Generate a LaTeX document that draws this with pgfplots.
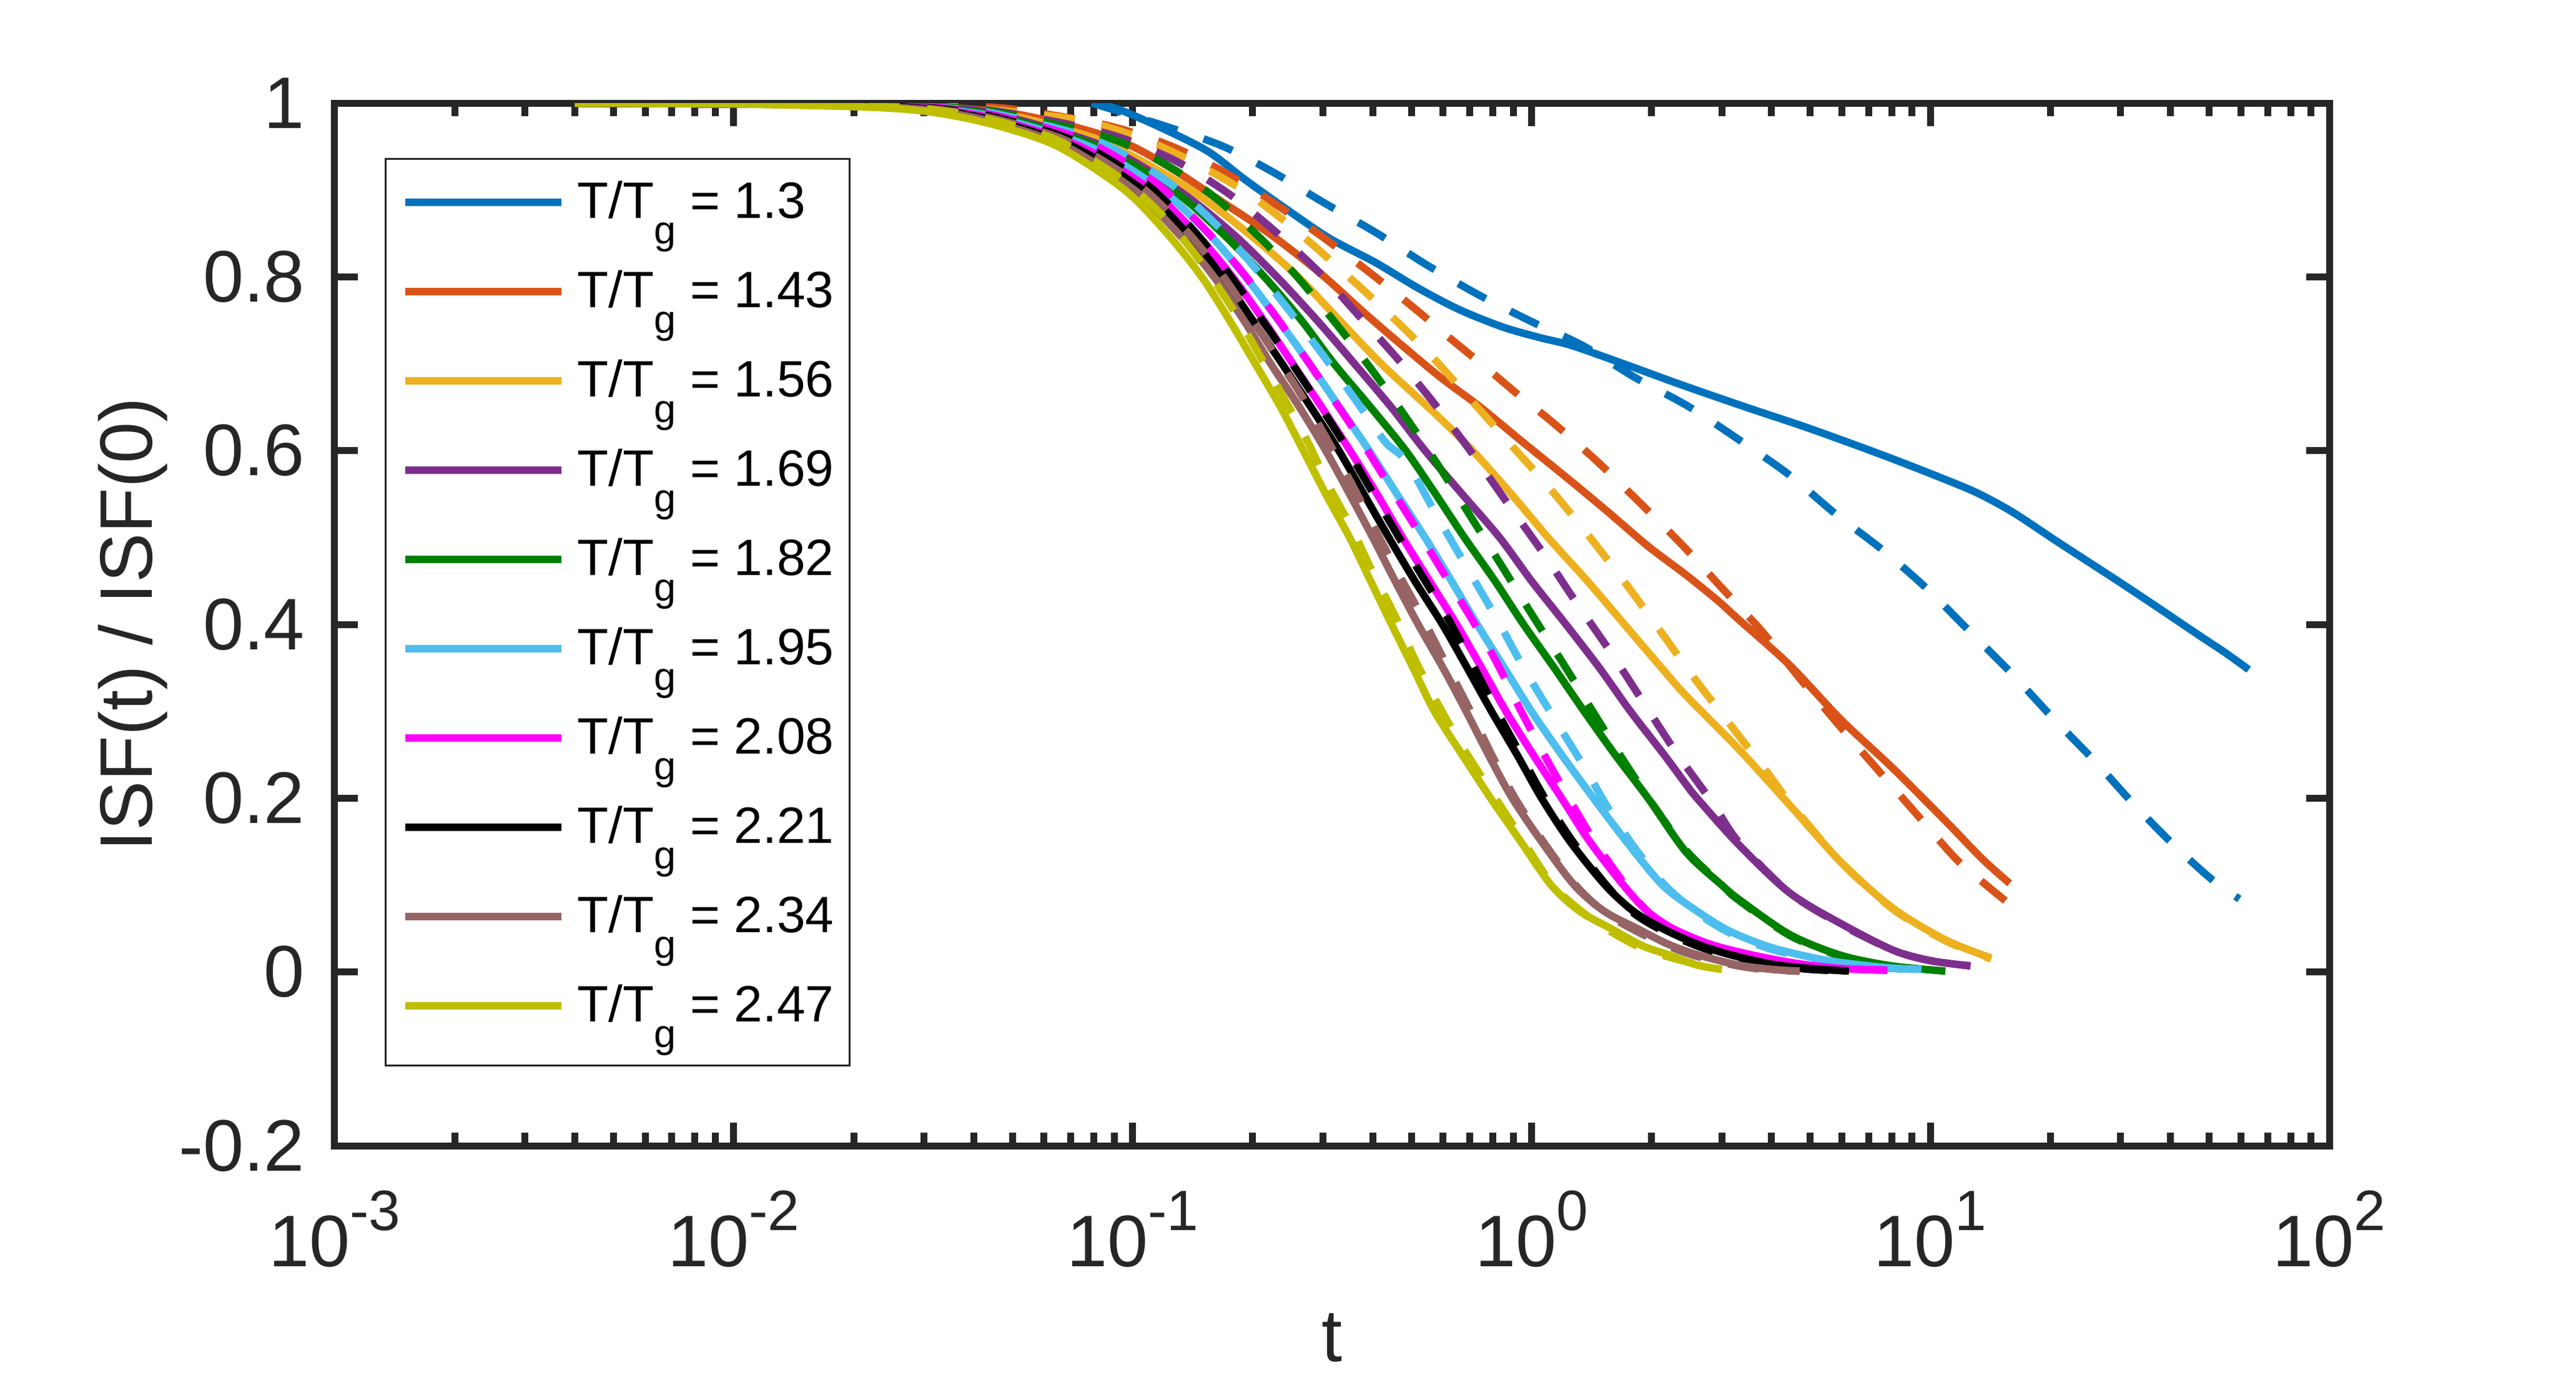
\documentclass[border=0pt]{standalone}
\usepackage{fontspec}
\setmainfont{Liberation Sans}
\usepackage{pgfplots}
\pgfplotsset{compat=1.18}
\definecolor{axcol}{HTML}{262626}
\definecolor{c1}{rgb}{0,0.447,0.741}
\definecolor{c2}{rgb}{0.85,0.325,0.098}
\definecolor{c3}{rgb}{0.929,0.694,0.125}
\definecolor{c4}{rgb}{0.494,0.184,0.556}
\definecolor{c5}{rgb}{0,0.5,0}
\definecolor{c6}{rgb}{0.301,0.745,0.933}
\definecolor{c7}{rgb}{1,0,1}
\definecolor{c8}{rgb}{0,0,0}
\definecolor{c9}{rgb}{0.588,0.392,0.392}
\definecolor{c10}{rgb}{0.75,0.75,0}
\newcommand{\supx}[1]{\raisebox{5.8pt}{\fontsize{9.1}{9.1}\selectfont #1}}
\newcommand{\leg}[1]{T/T\raisebox{-4.1pt}{\fontsize{6.3}{6.3}\selectfont g} = #1}
\begin{document}
\begin{tikzpicture}
\useasboundingbox (-53.6pt,-37.1pt) rectangle (358.9pt,183.5pt);
\begin{axis}[
  at={(0,0)}, anchor=south west,
  scale only axis, width=319.4pt, height=167pt,
  xmode=log, xmin=1e-3, xmax=1e2, ymin=-0.2, ymax=1,
  xtick={1e-3,1e-2,1e-1,1,10,100},
  xticklabels={10\supx{-3},10\supx{-2},10\supx{-1},10\supx{0},10\supx{1},10\supx{2}},
  minor xtick={2e-3,3e-3,4e-3,5e-3,6e-3,7e-3,8e-3,9e-3,2e-2,3e-2,4e-2,5e-2,6e-2,7e-2,8e-2,9e-2,0.2,0.3,0.4,0.5,0.6,0.7,0.8,0.9,2,3,4,5,6,7,8,9,20,30,40,50,60,70,80,90},
  ytick={-0.2,0,0.2,0.4,0.6,0.8,1},
  yticklabels={-0.2,0,0.2,0.4,0.6,0.8,1},
  minor ytick={},
  tick align=inside, tick pos=both,
  major tick length=3.7pt, minor tick length=2.1pt,
  tick style={draw=axcol, line width=1.1pt},
  axis line style={draw=axcol, line width=1.1pt},
  xticklabel style={font=\fontsize{11.7}{12}\selectfont, text=axcol, anchor=base, yshift=-19.3pt, inner sep=0pt},
  yticklabel style={font=\fontsize{11.7}{12}\selectfont, text=axcol, anchor=east, xshift=-4.6pt, inner sep=0pt},
  xlabel={t}, ylabel={ISF(t) / ISF(0)},
  every axis x label/.style={at={(axis description cs:0.5,0)}, anchor=base, yshift=-34.5pt, font=\fontsize{11.9}{12}\selectfont, text=axcol, inner sep=0pt},
  every axis y label/.style={at={(axis description cs:-0.0917,0.5)}, rotate=90, anchor=base, font=\fontsize{11.9}{12}\selectfont, text=axcol, inner sep=0pt},
  legend cell align=left,
  legend image code/.code={\draw[#1, line width=1.2pt] (0pt,1.3pt) -- (25pt,1.3pt);},
  legend style={at={(axis description cs:0.02505,0.9473)}, anchor=north west, draw=axcol, line width=0.3pt, fill=white, inner xsep=2.5pt, inner ysep=1.1pt, row sep=0pt, column sep=2pt, font=\fontsize{8.2}{9}\selectfont, nodes={inner sep=0pt, text height=8.4pt, text depth=5.9pt}},
  every axis plot/.append style={line width=1.2pt, line join=round, no markers, smooth, tension=0.5},
  dashstyle/.style={dash pattern=on 5pt off 4.4pt},
]
% T/Tg = 1.3
\addplot[c1] coordinates {(0.079,1.0)(0.092,0.993)(0.12,0.97)(0.155,0.944)(0.19,0.913)(0.236,0.882)(0.31,0.845)(0.408,0.816)(0.52,0.787)(0.661,0.762)(0.85,0.742)(1.05,0.73)(1.26,0.721)(1.7,0.70)(2.4,0.675)(3.5,0.649)(4.8,0.628)(6.44,0.607)(8.2,0.589)(10.2,0.572)(13,0.552)(16.1,0.529)(21,0.494)(29.5,0.450)(37,0.420)(46.6,0.389)(55,0.367)(62.8,0.348)};
\addlegendentry{\leg{1.3}}
\addplot[c1,dashstyle,forget plot] coordinates {(0.079,1.0)(0.109,0.980)(0.165,0.952)(0.224,0.921)(0.30,0.886)(0.407,0.851)(0.545,0.814)(0.739,0.779)(1.005,0.748)(1.343,0.721)(1.82,0.684)(2.47,0.651)(3.30,0.613)(4.40,0.573)(5.79,0.527)(7.62,0.485)(9.86,0.440)(12.6,0.391)(16.1,0.342)(20.4,0.291)(25.9,0.242)(32.8,0.190)(41,0.145)(50.6,0.107)(59.5,0.084)};
% 1.43
\addplot[c2] coordinates {(0.004,1.0)(0.01,0.999)(0.0225,0.998)(0.032,0.996)(0.05,0.988)(0.075,0.97)(0.10,0.95)(0.13,0.92)(0.163,0.89)(0.22,0.85)(0.294,0.805)(0.40,0.75)(0.578,0.688)(0.74,0.651)(0.95,0.61)(1.24,0.567)(1.55,0.53)(1.96,0.49)(2.44,0.457)(2.92,0.428)(3.3,0.406)(4.44,0.353)(5.98,0.29)(8.07,0.234)(10.9,0.174)(13.5,0.13)(15.8,0.102)};
\addlegendentry{\leg{1.43}}
\addplot[c2,dashstyle,forget plot] coordinates {(0.004,1.0)(0.01,0.999)(0.0225,0.999)(0.032,0.998)(0.05,0.993)(0.085,0.975)(0.121,0.953)(0.163,0.925)(0.219,0.889)(0.291,0.850)(0.383,0.809)(0.502,0.766)(0.63,0.728)(0.80,0.689)(0.95,0.660)(1.12,0.634)(1.45,0.589)(1.86,0.541)(2.38,0.492)(3.0,0.442)(3.8,0.391)(4.7,0.338)(6.0,0.28)(7.5,0.229)(9.3,0.18)(11.6,0.13)(13.8,0.1)(15.8,0.078)};
% 1.56
\addplot[c3] coordinates {(0.004,1.0)(0.01,0.999)(0.0225,0.997)(0.032,0.995)(0.05,0.985)(0.07,0.968)(0.09,0.95)(0.14,0.9)(0.195,0.85)(0.26,0.8)(0.33,0.75)(0.42,0.7)(0.578,0.641)(0.712,0.6)(0.89,0.55)(1.10,0.5)(1.38,0.45)(1.71,0.4)(2.1,0.352)(2.44,0.318)(3.3,0.257)(4.44,0.192)(5.98,0.126)(8.07,0.073)(10.9,0.037)(14.2,0.016)};
\addlegendentry{\leg{1.56}}
\addplot[c3,dashstyle,forget plot] coordinates {(0.004,1.0)(0.01,0.999)(0.0225,0.998)(0.032,0.997)(0.05,0.99)(0.076,0.979)(0.107,0.958)(0.146,0.929)(0.196,0.895)(0.259,0.852)(0.335,0.807)(0.433,0.760)(0.548,0.714)(0.70,0.66)(0.879,0.609)(1.11,0.557)(1.38,0.504)(1.71,0.449)(2.10,0.393)(2.56,0.338)(3.17,0.283)(3.91,0.229)(4.44,0.195)(5.98,0.126)(8.07,0.072)(10.9,0.036)(14.2,0.015)};
% 1.69
\addplot[c4] coordinates {(0.004,1.0)(0.01,0.999)(0.0225,0.998)(0.032,0.995)(0.045,0.988)(0.085,0.95)(0.13,0.9)(0.178,0.85)(0.23,0.8)(0.29,0.75)(0.36,0.7)(0.445,0.65)(0.541,0.6)(0.67,0.55)(0.832,0.5)(1.0,0.45)(1.22,0.4)(1.48,0.35)(1.77,0.3)(2.15,0.25)(2.44,0.216)(2.6,0.2)(3.3,0.147)(4.44,0.091)(6.0,0.055)(8.07,0.025)(10.0,0.013)(12.6,0.007)};
\addlegendentry{\leg{1.69}}
\addplot[c4,dashstyle,forget plot] coordinates {(0.004,1.0)(0.01,0.999)(0.0225,0.998)(0.032,0.996)(0.045,0.991)(0.07,0.975)(0.095,0.959)(0.130,0.932)(0.175,0.895)(0.228,0.852)(0.294,0.805)(0.373,0.753)(0.469,0.702)(0.58,0.65)(0.715,0.595)(0.875,0.538)(1.07,0.482)(1.30,0.424)(1.58,0.368)(1.91,0.310)(2.31,0.252)(2.84,0.195)(3.3,0.15)(4.44,0.091)(6.0,0.054)(8.07,0.025)(10.0,0.013)(12.6,0.007)};
% 1.82
\addplot[c5] coordinates {(0.004,1.0)(0.01,0.999)(0.0225,0.997)(0.032,0.994)(0.045,0.986)(0.082,0.95)(0.126,0.9)(0.168,0.85)(0.214,0.8)(0.265,0.75)(0.32,0.7)(0.395,0.65)(0.484,0.6)(0.575,0.55)(0.679,0.5)(0.81,0.45)(0.955,0.4)(1.14,0.35)(1.355,0.3)(1.62,0.25)(1.96,0.2)(2.44,0.138)(3.0,0.1)(3.3,0.084)(4.44,0.043)(5.98,0.019)(8.0,0.007)(10.9,0.001)};
\addlegendentry{\leg{1.82}}
\addplot[c5,dashstyle,forget plot] coordinates {(0.004,1.0)(0.01,0.999)(0.0225,0.998)(0.032,0.996)(0.045,0.99)(0.083,0.963)(0.114,0.936)(0.153,0.899)(0.198,0.855)(0.253,0.805)(0.316,0.752)(0.392,0.697)(0.48,0.641)(0.582,0.584)(0.702,0.525)(0.843,0.467)(1.01,0.409)(1.22,0.350)(1.46,0.292)(1.72,0.24)(2.0,0.195)(2.44,0.14)(3.0,0.1)(3.3,0.083)(4.44,0.042)(5.98,0.018)(8.0,0.006)(10.9,0.001)};
% 1.95
\addplot[c6] coordinates {(0.004,1.0)(0.01,0.999)(0.0225,0.997)(0.032,0.993)(0.045,0.984)(0.078,0.95)(0.118,0.9)(0.155,0.85)(0.192,0.8)(0.232,0.75)(0.278,0.7)(0.33,0.65)(0.392,0.6)(0.46,0.55)(0.541,0.5)(0.63,0.45)(0.731,0.4)(0.855,0.35)(1.0,0.3)(1.19,0.25)(1.43,0.2)(1.73,0.15)(2.13,0.1)(2.6,0.07)(3.14,0.047)(4.0,0.028)(5.4,0.014)(7.0,0.007)(8.3,0.004)(9.5,0.003)};
\addlegendentry{\leg{1.95}}
\addplot[c6,dashstyle,forget plot] coordinates {(0.004,1.0)(0.01,0.999)(0.0225,0.998)(0.032,0.995)(0.045,0.988)(0.08,0.958)(0.122,0.91)(0.162,0.86)(0.203,0.81)(0.248,0.76)(0.30,0.71)(0.36,0.66)(0.43,0.61)(0.485,0.588)(0.576,0.527)(0.686,0.467)(0.817,0.407)(0.964,0.347)(1.15,0.289)(1.36,0.235)(1.55,0.19)(1.8,0.145)(2.16,0.1)(2.6,0.068)(3.14,0.045)(4.0,0.026)(5.4,0.013)(7.0,0.006)(9.5,0.002)};
% 2.08
\addplot[c7] coordinates {(0.004,1.0)(0.01,0.999)(0.0225,0.997)(0.032,0.993)(0.045,0.982)(0.074,0.95)(0.111,0.9)(0.144,0.85)(0.178,0.8)(0.213,0.75)(0.252,0.7)(0.298,0.65)(0.351,0.6)(0.41,0.55)(0.475,0.5)(0.555,0.45)(0.649,0.4)(0.75,0.35)(0.863,0.3)(1.01,0.25)(1.19,0.2)(1.4,0.15)(1.70,0.1)(1.95,0.07)(2.26,0.05)(2.8,0.032)(3.54,0.02)(4.6,0.01)(6.0,0.004)(7.8,0.002)};
\addlegendentry{\leg{2.08}}
\addplot[c7,dashstyle,forget plot] coordinates {(0.004,1.0)(0.01,0.999)(0.0225,0.998)(0.032,0.995)(0.045,0.986)(0.075,0.958)(0.113,0.91)(0.148,0.86)(0.185,0.81)(0.224,0.76)(0.268,0.71)(0.318,0.66)(0.376,0.61)(0.44,0.56)(0.515,0.51)(0.60,0.46)(0.70,0.41)(0.81,0.36)(0.93,0.305)(1.07,0.252)(1.24,0.2)(1.44,0.15)(1.72,0.1)(1.96,0.069)(2.27,0.048)(2.8,0.03)(3.54,0.018)(4.6,0.009)(6.0,0.004)(7.8,0.002)};
% 2.21
\addplot[c8] coordinates {(0.004,1.0)(0.01,0.999)(0.0225,0.997)(0.032,0.992)(0.045,0.98)(0.071,0.95)(0.106,0.9)(0.137,0.85)(0.168,0.8)(0.20,0.75)(0.237,0.7)(0.28,0.65)(0.329,0.6)(0.38,0.55)(0.439,0.5)(0.51,0.45)(0.598,0.4)(0.69,0.35)(0.794,0.3)(0.92,0.25)(1.06,0.2)(1.25,0.15)(1.53,0.1)(1.8,0.07)(2.13,0.05)(2.6,0.032)(3.14,0.02)(4.0,0.009)(5.0,0.004)(6.25,0.001)};
\addlegendentry{\leg{2.21}}
\addplot[c8,dashstyle,forget plot] coordinates {(0.004,1.0)(0.01,0.999)(0.0225,0.997)(0.032,0.994)(0.045,0.984)(0.071,0.957)(0.106,0.91)(0.138,0.86)(0.17,0.81)(0.204,0.76)(0.243,0.71)(0.287,0.66)(0.337,0.61)(0.39,0.56)(0.452,0.51)(0.525,0.46)(0.612,0.41)(0.71,0.355)(0.815,0.302)(0.94,0.25)(1.08,0.2)(1.27,0.15)(1.54,0.1)(1.8,0.068)(2.14,0.047)(2.6,0.03)(3.14,0.018)(4.0,0.008)(5.0,0.003)(6.25,0.001)};
% 2.34
\addplot[c9] coordinates {(0.004,1.0)(0.01,0.999)(0.0225,0.996)(0.032,0.991)(0.045,0.978)(0.068,0.95)(0.101,0.9)(0.13,0.85)(0.160,0.8)(0.19,0.75)(0.222,0.7)(0.262,0.65)(0.305,0.6)(0.35,0.55)(0.40,0.5)(0.455,0.45)(0.52,0.4)(0.60,0.35)(0.686,0.3)(0.78,0.25)(0.895,0.2)(1.06,0.15)(1.28,0.1)(1.52,0.07)(1.84,0.05)(2.2,0.032)(2.6,0.02)(3.3,0.008)(4.0,0.003)(4.7,0.001)};
\addlegendentry{\leg{2.34}}
\addplot[c9,dashstyle,forget plot] coordinates {(0.004,1.0)(0.01,0.999)(0.0225,0.997)(0.032,0.993)(0.045,0.982)(0.068,0.957)(0.101,0.91)(0.132,0.86)(0.163,0.81)(0.194,0.76)(0.228,0.71)(0.268,0.66)(0.31,0.61)(0.356,0.56)(0.405,0.51)(0.462,0.46)(0.53,0.41)(0.61,0.355)(0.70,0.302)(0.795,0.25)(0.91,0.2)(1.07,0.15)(1.29,0.1)(1.53,0.068)(1.85,0.046)(2.2,0.03)(2.6,0.018)(3.3,0.007)(4.0,0.002)(4.7,0.001)};
% 2.47
\addplot[c10] coordinates {(0.004,1.0)(0.01,0.999)(0.0225,0.995)(0.032,0.989)(0.045,0.975)(0.065,0.95)(0.0955,0.9)(0.122,0.85)(0.149,0.8)(0.175,0.75)(0.203,0.7)(0.235,0.65)(0.268,0.6)(0.305,0.55)(0.35,0.5)(0.395,0.45)(0.446,0.4)(0.505,0.35)(0.571,0.3)(0.67,0.25)(0.79,0.2)(0.94,0.15)(1.12,0.1)(1.32,0.07)(1.58,0.05)(1.9,0.03)(2.2,0.02)(2.6,0.008)(3.0,0.003)};
\addlegendentry{\leg{2.47}}
\addplot[c10,dashstyle,forget plot] coordinates {(0.004,1.0)(0.01,0.999)(0.0225,0.996)(0.032,0.992)(0.045,0.98)(0.065,0.957)(0.0955,0.91)(0.125,0.86)(0.152,0.81)(0.18,0.76)(0.208,0.71)(0.24,0.66)(0.275,0.61)(0.31,0.56)(0.355,0.51)(0.40,0.46)(0.455,0.41)(0.51,0.36)(0.58,0.31)(0.68,0.255)(0.80,0.205)(0.95,0.152)(1.13,0.1)(1.35,0.068)(1.6,0.045)(1.9,0.027)(2.3,0.015)(2.7,0.007)(3.0,0.003)};
\end{axis}
\end{tikzpicture}
\end{document}
